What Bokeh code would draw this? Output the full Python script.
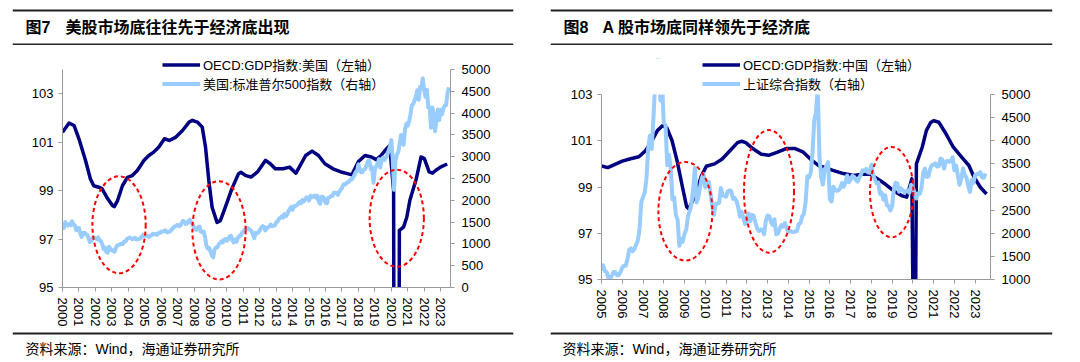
from bokeh.plotting import figure
from bokeh.models import (Range1d, LinearAxis, FixedTicker, Legend, LegendItem,
                          BoxAnnotation, Label)
from bokeh.layouts import column, row
from bokeh.embed import file_html
from bokeh.resources import INLINE

# ---------------- data: Figure 7 (US) ----------------
US_YEARS = list(range(2000, 2024))
US_GDP_T = [2000.0, 2000.4, 2000.7, 2001.0, 2001.4, 2001.7, 2001.9, 2002.2, 2002.4, 2002.7,
            2003.05, 2003.15, 2003.35, 2003.65, 2003.95, 2004.25, 2004.55, 2004.95, 2005.25, 2005.55,
            2005.85, 2006.2, 2006.5, 2006.9, 2007.3, 2007.7, 2007.9, 2008.2, 2008.5, 2008.7,
            2008.9, 2009.1, 2009.4, 2009.6, 2009.9, 2010.3, 2010.7, 2010.85, 2011.15, 2011.47,
            2011.86, 2012.35, 2012.64, 2012.94, 2013.42, 2013.81, 2014.2, 2014.79, 2015.18, 2015.57,
            2015.96, 2016.45, 2016.94, 2017.33, 2017.6, 2018.0, 2018.4, 2018.79, 2019.08, 2019.38,
            2019.77, 2019.9, 2020.14, 2020.17, 2020.46, 2020.49, 2020.74, 2020.94, 2021.13, 2021.52,
            2021.81, 2022.01, 2022.3, 2022.5, 2022.69, 2022.99, 2023.4]
US_GDP = [101.41, 101.79, 101.69, 101.14, 100.24, 99.48, 99.2, 99.14, 99.08, 98.72,
          98.38, 98.34, 98.59, 99.21, 99.55, 99.62, 99.83, 100.24, 100.45, 100.59,
          100.79, 101.14, 101.07, 101.21, 101.48, 101.83, 101.9, 101.83, 101.62, 100.79,
          99.41, 98.31, 97.69, 97.76, 98.31, 99.07, 99.69, 99.76, 99.62, 99.56,
          99.77, 100.25, 100.11, 99.9, 99.9, 99.97, 99.72, 100.45, 100.63, 100.45,
          100.11, 99.9, 99.77, 99.7, 99.65, 100.2, 100.45, 100.39, 100.28, 100.45,
          100.77, 100.85, 99.0, 88.0, 88.0, 97.36, 97.49, 97.9, 98.6, 99.49,
          100.39, 100.32, 99.77, 99.72, 99.83, 99.97, 100.1]
SP500_START = 2000
SP500 = [
    1450, 1366, 1499, 1452, 1421, 1455, 1431, 1518, 1437, 1429, 1315, 1320,   # 2000
    1366, 1240, 1160, 1249, 1256, 1224, 1211, 1134, 1041, 1060, 1139, 1148,   # 2001
    1130, 1107, 1147, 1077, 1067, 990, 880, 916, 815, 800, 936, 880,          # 2002
    856, 841, 820, 917, 964, 975, 990, 1008, 996, 1051, 1058, 1112,           # 2003
    1131, 1145, 1126, 1107, 1121, 1141, 1102, 1104, 1115, 1130, 1174, 1212,   # 2004
    1181, 1204, 1181, 1157, 1191, 1191, 1234, 1220, 1229, 1207, 1249, 1248,   # 2005
    1280, 1281, 1295, 1311, 1270, 1270, 1277, 1304, 1336, 1378, 1401, 1418,   # 2006
    1438, 1407, 1421, 1482, 1531, 1503, 1455, 1474, 1527, 1549, 1481, 1468,   # 2007
    1379, 1331, 1323, 1386, 1400, 1280, 1267, 1283, 1165, 969, 896, 903,      # 2008
    826, 735, 690, 873, 919, 919, 987, 1021, 1057, 1036, 1096, 1115,         # 2009
    1074, 1104, 1169, 1187, 1089, 1031, 1102, 1049, 1141, 1183, 1181, 1258,   # 2010
    1286, 1327, 1326, 1364, 1345, 1321, 1292, 1219, 1131, 1253, 1247, 1258,   # 2011
    1312, 1366, 1408, 1398, 1310, 1362, 1379, 1407, 1441, 1412, 1416, 1426,   # 2012
    1498, 1515, 1569, 1598, 1631, 1606, 1686, 1633, 1682, 1757, 1806, 1848,   # 2013
    1783, 1859, 1872, 1884, 1924, 1960, 1931, 2003, 1972, 2018, 2068, 2059,   # 2014
    1995, 2105, 2068, 2086, 2107, 2063, 2104, 1972, 1920, 2079, 2080, 2044,   # 2015
    1940, 1932, 2060, 2065, 2097, 2099, 2174, 2171, 2168, 2126, 2199, 2239,   # 2016
    2279, 2364, 2363, 2384, 2412, 2423, 2470, 2472, 2519, 2575, 2648, 2674,   # 2017
    2824, 2714, 2641, 2648, 2705, 2718, 2816, 2902, 2914, 2712, 2760, 2400,   # 2018
    2704, 2784, 2834, 2946, 2752, 2942, 2980, 2926, 2977, 3038, 3141, 3231,   # 2019
    3380, 2954, 2240, 2912, 3044, 3100, 3271, 3500, 3363, 3270, 3622, 3756,   # 2020
    3714, 3811, 3973, 4181, 4204, 4298, 4395, 4523, 4308, 4605, 4567, 4796,   # 2021
    4516, 4374, 4530, 4132, 4132, 3666, 4130, 3955, 3586, 3872, 4080, 3840,   # 2022
    4077, 3970, 4109, 4169, 4180, 4450, 4589]                                  # 2023

# ---------------- data: Figure 8 (China) ----------------
CN_YEARS = list(range(2005, 2024))
CN_GDP_T = [2005.0, 2005.3, 2005.65, 2006.0, 2006.4, 2006.8, 2007.1, 2007.4, 2007.7, 2007.95,
            2008.15, 2008.4, 2008.65, 2008.9, 2009.1, 2009.2, 2009.45, 2009.7, 2009.8, 2010.05,
            2010.45, 2010.8, 2011.2, 2011.55, 2011.75, 2011.95, 2012.3, 2012.7, 2013.05, 2013.45,
            2013.9, 2014.3, 2014.7, 2015.1, 2015.45, 2015.75, 2016.15, 2016.65, 2017.15, 2017.55,
            2017.95, 2018.25, 2018.65, 2019.05, 2019.45, 2019.7, 2019.95, 2020.03, 2020.12, 2020.17,
            2020.45, 2020.65, 2020.85, 2021.0, 2021.25, 2021.55, 2021.95, 2022.35, 2022.7, 2022.95,
            2023.25, 2023.55]
CN_GDP = [99.91, 99.84, 99.98, 100.12, 100.22, 100.31, 100.55, 100.95, 101.45, 101.66,
          101.55, 101.0, 100.1, 99.0, 98.15, 98.06, 98.5, 99.15, 99.45, 99.9,
          100.0, 100.2, 100.58, 100.92, 100.98, 100.92, 100.65, 100.42, 100.37, 100.5,
          100.66, 100.67, 100.52, 100.18, 99.93, 99.85, 99.72, 99.58, 99.5, 99.55,
          99.55, 99.38, 99.14, 98.85, 98.63, 98.56, 99.35, 92.0, 92.0, 100.0,
          100.72, 101.44, 101.78, 101.87, 101.8, 101.37, 100.72, 100.29, 99.93, 99.42,
          98.99, 98.7]
SSE_START = 2005
SSE = [
    1191, 1306, 1181, 1159, 1030, 1010, 1083, 1162, 1155, 1092, 1099, 1161,   # 2005
    1258, 1299, 1299, 1440, 1641, 1672, 1612, 1658, 1753, 1837, 2099, 2675,   # 2006
    2786, 2881, 3184, 3841, 4109, 3821, 4471, 5219, 5552, 5955, 4871, 5262,   # 2007
    4383, 4349, 3473, 3693, 3433, 2736, 2775, 2397, 2293, 1729, 1871, 1821,   # 2008
    1991, 2082, 2373, 2477, 2633, 2959, 3412, 2667, 2779, 2996, 3195, 3277,   # 2009
    2989, 3051, 3110, 2870, 2592, 2398, 2638, 2639, 2656, 2979, 2820, 2808,   # 2010
    2790, 2905, 2928, 2911, 2743, 2762, 2701, 2568, 2359, 2468, 2333, 2199,   # 2011
    2292, 2428, 2262, 2396, 2373, 2225, 2103, 2047, 2086, 2069, 1980, 2269,   # 2012
    2385, 2365, 2237, 2177, 2300, 1979, 1994, 2098, 2175, 2141, 2220, 2116,   # 2013
    2033, 2056, 2033, 2026, 2039, 2048, 2201, 2217, 2364, 2420, 2683, 3235,   # 2014
    3210, 3310, 3748, 4441, 4612, 5150, 3664, 3206, 3053, 3383, 3445, 3539,   # 2015
    2738, 2688, 3004, 2938, 2917, 2930, 2979, 3085, 3005, 3100, 3250, 3104,   # 2016
    3159, 3242, 3223, 3155, 3117, 3192, 3273, 3361, 3349, 3393, 3317, 3307,   # 2017
    3481, 3259, 3169, 3082, 3095, 2847, 2876, 2725, 2821, 2603, 2588, 2494,   # 2018
    2585, 2941, 3091, 3078, 2899, 2979, 2933, 2886, 2905, 2929, 2872, 3050,   # 2019
    2977, 2880, 2750, 2860, 2852, 2985, 3310, 3396, 3218, 3225, 3392, 3473,   # 2020
    3483, 3509, 3442, 3447, 3615, 3591, 3397, 3544, 3568, 3547, 3564, 3640,   # 2021
    3362, 3462, 3252, 3047, 3186, 3399, 3253, 3202, 3024, 2893, 3151, 3089,   # 2022
    3255, 3280, 3273, 3323, 3205, 3202, 3291]                                  # 2023

# ---------------- annotation ellipses (data units) ----------------
US_ELL = dict(x=[2003.44, 2009.52, 2020.33], y=[97.59, 97.36, 97.86],
              w=[3.24, 3.24, 3.3], h=[4.0, 4.06, 4.01])
CN_ELL = dict(x=[2009.04, 2013.07, 2018.98], y=[97.95, 98.81, 98.78],
              w=[2.6, 2.41, 2.09], h=[4.26, 5.3, 3.9])

DARK = "#000080"
LIGHT = "#99ccff"
AXIS = "#9a9a9a"
RULE_COLOR = "#222222"
NUM_FONT = "'Liberation Sans'"
MIX_FONT = "'Liberation Sans', 'Noto Sans CJK SC'"


def style_axis(ax, standoff):
    ax.axis_line_color = AXIS
    ax.major_tick_line_color = AXIS
    ax.major_tick_out = 4
    ax.major_tick_in = 0
    ax.minor_tick_line_color = None
    ax.major_label_text_font = NUM_FONT
    ax.major_label_text_font_size = "13px"
    ax.major_label_text_color = "#000000"
    ax.major_label_standoff = standoff


def make_panel(width, years, xr, yr_vis, yr_top, rr_vis, rr_top, lticks, rticks, borders, height,
               gdp_t, gdp, stock_start, stock, ell, labels, leg_loc):
    bl, br, bt, bb = borders
    p = figure(width=width, height=height, x_range=Range1d(*xr), y_range=Range1d(yr_vis[0], yr_top),
               output_backend="svg", toolbar_location=None,
               min_border_left=bl, min_border_right=br, min_border_top=bt, min_border_bottom=bb,
               outline_line_color=None, background_fill_color="white", border_fill_color="white")
    p.extra_y_ranges = {"r": Range1d(rr_vis[0], rr_top)}
    p.xgrid.visible = False
    p.ygrid.visible = False
    p.xaxis.ticker = FixedTicker(ticks=years)
    p.xaxis.major_label_overrides = {y: str(y) for y in years}
    p.xaxis.major_label_orientation = "vertical"
    style_axis(p.xaxis[0], 6)
    p.yaxis.ticker = FixedTicker(ticks=lticks)
    p.yaxis.bounds = yr_vis
    style_axis(p.yaxis[0], 5)
    rax = LinearAxis(y_range_name="r", ticker=FixedTicker(ticks=rticks), bounds=rr_vis)
    style_axis(rax, 7)
    p.add_layout(rax, "right")

    rd = p.line(gdp_t, gdp, line_color=DARK, line_width=3.5, line_join="round")
    st_x = [stock_start + i / 12 for i in range(len(stock))]
    rl = p.line(st_x, stock, y_range_name="r", line_color=LIGHT, line_width=4, line_join="round")
    p.ellipse(x=ell["x"], y=ell["y"], width=ell["w"], height=ell["h"],
              fill_color=None, line_color="#ff0000", line_width=2, line_dash="4 3")
    # blank the area above the visible axis range (the chart is cut at its top value)
    p.add_layout(BoxAnnotation(bottom=yr_vis[1], fill_color="white", fill_alpha=1.0,
                               line_color=None, level="guide"))

    leg = Legend(items=[LegendItem(label=labels[0], renderers=[rd]),
                        LegendItem(label=labels[1], renderers=[rl])],
                 location=leg_loc, orientation="vertical",
                 glyph_width=38, glyph_height=17, label_height=17, label_standoff=3,
                 spacing=0, padding=0, margin=0, border_line_color=None,
                 background_fill_alpha=0, label_text_font=MIX_FONT,
                 label_text_font_size="13px", label_text_color="#000000")
    p.add_layout(leg)
    return p


def strip(width, height, left, frame_w):
    """Blank figure; its frame is frame_w wide starting at `left`; y in px from its top."""
    return figure(width=width, height=height, x_range=Range1d(0, frame_w),
                  y_range=Range1d(height, 0),
                  x_axis_type=None, y_axis_type=None, output_backend="svg", toolbar_location=None,
                  min_border_left=left, min_border_right=width - left - frame_w,
                  min_border_top=0, min_border_bottom=0, outline_line_color=None,
                  background_fill_color="white", border_fill_color="white")


def add_rule(s, frame_w, y):
    s.line(x=[0, frame_w], y=[y, y], line_color=RULE_COLOR, line_width=2, line_cap="butt")


def header(width, num, text, rule_x, rule_w, num_x, text_x):
    h = strip(width, 45, rule_x, rule_w)            # page y 0..45
    add_rule(h, rule_w, 10)
    add_rule(h, rule_w, 44)
    for x, s in ((num_x, num), (text_x, text)):
        h.add_layout(Label(x=x, y=27, text=s, text_baseline="middle", text_align="left",
                           text_font=MIX_FONT, text_font_size="16px", text_font_style="bold",
                           text_color="#000000"))
    return h


def footer(width, rule_x, rule_w, text_x):
    f = strip(width, 29, rule_x, rule_w)            # page y 331..360
    add_rule(f, rule_w, 2)
    f.add_layout(Label(x=text_x, y=17, text="资料来源：Wind，海通证券研究所", text_baseline="middle",
                       text_align="left", text_font=MIX_FONT, text_font_size="14px",
                       text_color="#000000"))
    return f


WL, WR = 540, 536

# left: frame x 62..450, y 58..287; visible axis 95..104 / 0..5000 spans 69..287
pL = make_panel(WL, US_YEARS, (2000, 2023.6), (95, 104), 104.454, (0, 5000), 5252.3,
                [95, 97, 99, 101, 103], list(range(0, 5001, 500)), (62, 90, 13, 44), 286,
                US_GDP_T, US_GDP, SP500_START, SP500, US_ELL,
                ["OECD:GDP指数:美国（左轴）", "美国:标准普尔500指数（右轴）"], (100, 194))
# right: frame x 601..990, y 58..279; visible axis 95..103 / 1000..5000 spans 94..279
pR = make_panel(WR, CN_YEARS, (2005, 2023.74), (95, 103), 104.557, (1000, 5000), 5778.4,
                [95, 97, 99, 101, 103], list(range(1000, 5001, 500)), (61, 86, 13, 44), 278,
                CN_GDP_T, CN_GDP, SSE_START, SSE, CN_ELL,
                ["OECD:GDP指数:中国（左轴）", "上证综合指数（右轴）"], (101, 186))

hL = header(WL, "图7", "美股市场底往往先于经济底出现", 12, 501, 13, 53)
hR = header(WR, "图8", "A 股市场底同样领先于经济底", 10, 502, 13, 52)
fL = footer(WL, 12, 501, 13)
fR = footer(WR, 10, 502, 12)

layout = column(row(hL, hR), row(pL, pR), row(fL, fR))

with open("out.html", "w") as f:
    f.write(file_html(layout, INLINE))
